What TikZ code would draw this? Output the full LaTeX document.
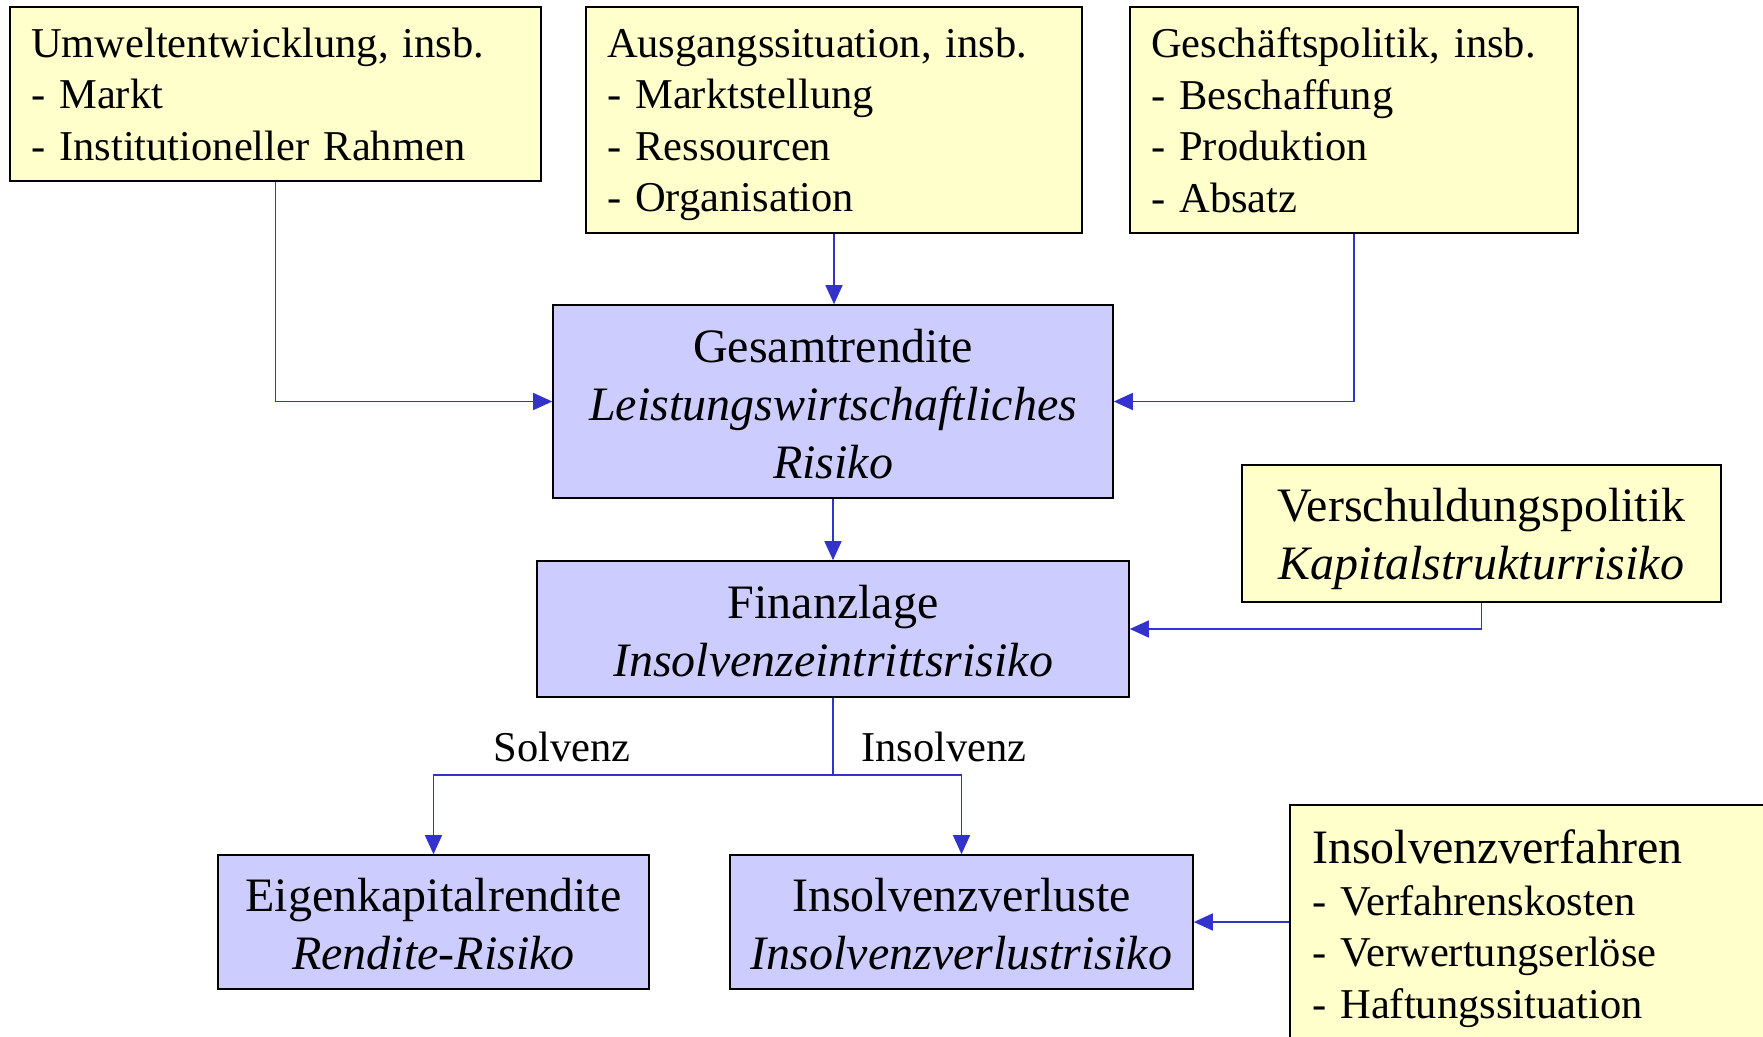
\documentclass[tikz,border=0pt]{standalone}
\usepackage{fontspec}
\setmainfont{Liberation Serif}
\usetikzlibrary{positioning,arrows.meta}
\definecolor{gelb}{HTML}{FFFFCC}
\definecolor{lila}{HTML}{CCCCFF}
\definecolor{pfeilblau}{HTML}{3333CC}
\newcommand{\grossschrift}{\fontsize{48}{58}\selectfont}
\newcommand{\kleinschrift}{\fontsize{42.5}{51.5}\selectfont}
\newcommand{\oben}[1]{\rule{0pt}{#1}}

\begin{document}
\begin{tikzpicture}[x=1pt,y=-1pt,
    einfluss/.style={draw=black, line width=1.6pt, fill=gelb, align=left,
      inner xsep=21pt, inner ysep=0pt, font=\kleinschrift},
    groesse/.style={draw=black, line width=1.6pt, fill=lila, align=center,
      inner sep=0pt, font=\grossschrift},
    pfeil/.style={-{Triangle[length=19pt,width=17pt]}, line width=1.5pt, pfeilblau},
    linie/.style={line width=1.5pt, pfeilblau},
    zweig/.style={font=\kleinschrift, inner sep=0pt}]
  \useasboundingbox (0,0) rectangle (1763,1036);
  % Einflussfaktoren oben
  \node[einfluss, text width=489pt, minimum height=174pt] (umw) at (275.5,94)
    {Umweltentwicklung, insb.\\- Markt\\- Institutioneller Rahmen};
  \node[einfluss, text width=454pt, minimum height=226pt] (aus) at (834,120)
    {\oben{38pt}Ausgangssituation, insb.\\- Marktstellung\\- Ressourcen\\- Organisation};
  \node[einfluss, text width=406pt, minimum height=226pt] (ges) at (1354,120)
    {Geschäftspolitik, insb.\\- Beschaffung\\- Produktion\\- Absatz};
  % Zielgroessen
  \node[groesse, minimum width=560pt, minimum height=193pt] (gr) at (833,401.5)
    {\oben{38pt}Gesamtrendite\\\textit{Leistungswirtschaftliches}\\\textit{Risiko}};
  \node[groesse, fill=gelb, minimum width=479pt, minimum height=137pt] (vs) at (1481.5,533.5)
    {\oben{44pt}Verschuldungspolitik\\\textit{Kapitalstrukturrisiko}};
  \node[groesse, minimum width=592pt, minimum height=136pt] (fin) at (833,629)
    {\oben{37pt}Finanzlage\\\textit{Insolvenzeintrittsrisiko}};
  \node[groesse, minimum width=431pt, minimum height=134pt] (ek) at (433.5,922)
    {\oben{38pt}Eigenkapitalrendite\\\textit{Rendite-Risiko}};
  \node[groesse, minimum width=463pt, minimum height=134pt] (iv) at (961.5,922)
    {\oben{38pt}Insolvenzverluste\\\textit{Insolvenzverlustrisiko}};
  \node[einfluss, inner xsep=22pt, text width=446pt, minimum height=244pt] (ivf) at (1535,927)
    {{\grossschrift\oben{37pt}Insolvenzverfahren}\\- Verfahrenskosten\\- Verwertungserlöse\\- Haftungssituation};
  % Verzweigung
  \coordinate (teil) at (833,775);
  \node[zweig] (solv) at (562,747) {Solvenz};
  \node[zweig] (insolv) at (944,747) {Insolvenz};
  % Verbindungen
  \draw[pfeil] (umw.south) |- (gr.west);
  \draw[pfeil] (aus.south) -- (aus.south |- gr.north);
  \draw[pfeil] (ges.south) |- (gr.east);
  \draw[pfeil] (gr.south) -- (fin.north);
  \draw[pfeil] (vs.south) |- (fin.east);
  \draw[linie] (fin.south) -- (teil);
  \draw[pfeil] (teil) -| (ek.north);
  \draw[pfeil] (teil) -| (iv.north);
  \draw[pfeil] (ivf.west |- iv.east) -- (iv.east);
\end{tikzpicture}
\end{document}
